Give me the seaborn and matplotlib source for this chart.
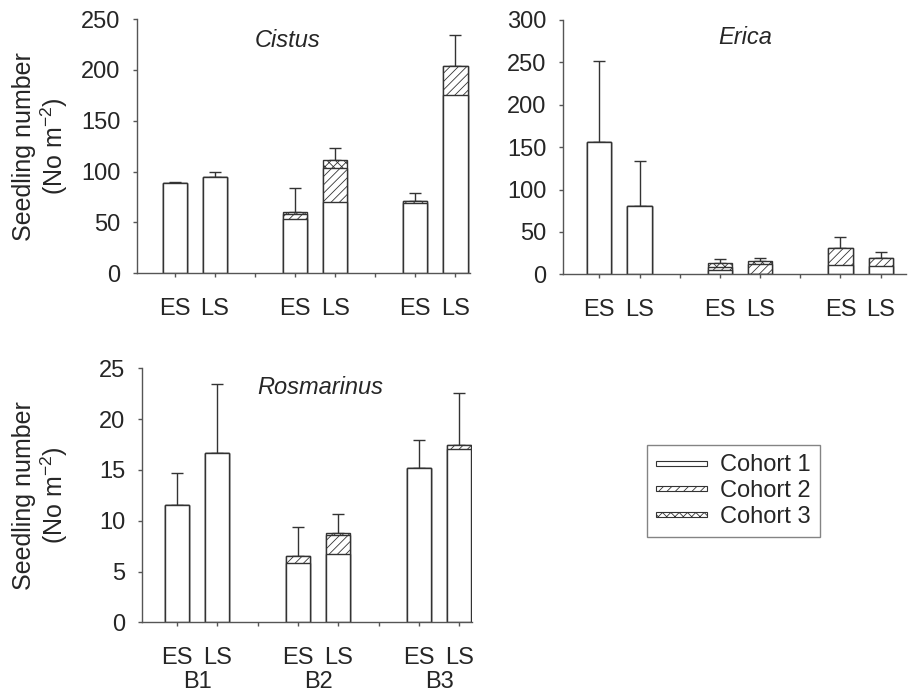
import numpy as np
import pandas as pd
import matplotlib
matplotlib.use("Agg")
import matplotlib.pyplot as plt
from matplotlib.patches import Patch, Rectangle
from matplotlib.legend_handler import HandlerPatch
import seaborn as sns

# Bar positions (ES / LS within burn sites B1, B2, B3)
positions = [1, 2, 4, 5, 7, 8]
sub_labels = ["ES", "LS", "ES", "LS", "ES", "LS"]
site_pos = [1.5, 4.5, 7.5]
site_labels = ["B1", "B2", "B3"]
cohort_names = ["Cohort 1", "Cohort 2", "Cohort 3"]

# Seedling density per cohort (No m-2) and upper standard error of the total
cistus_c1 = [89.0, 94.5, 53.1, 70.0, 69.5, 175.5]
cistus_c2 = [0.0, 0.0, 5.0, 33.3, 1.4, 28.5]
cistus_c3 = [0.0, 0.0, 2.2, 8.2, 0.0, 0.0]
cistus_se = [0.5, 5.2, 24.0, 12.1, 8.4, 30.5]

erica_c1 = [156.4, 81.0, 5.1, 0.0, 11.0, 10.2]
erica_c2 = [0.0, 0.0, 3.9, 12.2, 20.4, 9.4]
erica_c3 = [0.0, 0.0, 4.0, 3.8, 0.0, 0.0]
erica_se = [95.6, 52.3, 4.7, 2.9, 13.0, 7.1]

rosm_c1 = [11.55, 16.63, 5.8, 6.72, 15.19, 17.06]
rosm_c2 = [0.0, 0.0, 0.7, 1.88, 0.0, 0.36]
rosm_c3 = [0.0, 0.0, 0.0, 0.22, 0.0, 0.0]
rosm_se = [3.15, 6.87, 2.9, 1.81, 2.75, 5.12]

sns.set_theme(style="ticks")
plt.rcParams["font.family"] = ["Liberation Sans", "DejaVu Sans"]
plt.rcParams["mathtext.fontset"] = "custom"
plt.rcParams["mathtext.rm"] = "Liberation Sans"
plt.rcParams["mathtext.it"] = "Liberation Sans:italic"
plt.rcParams["hatch.linewidth"] = 0.6
plt.rcParams["hatch.color"] = "#333333"

EDGE = "#333333"
SPINE = "#555555"
FS = 17
HATCHES = ["", "////", "xxxx"]

fig = plt.figure(figsize=(9.09, 6.92), dpi=100)


def panel(rect, c1, c2, c3, se, ymax, ystep, title, title_xy, xlim, sites=False):
    ax = fig.add_axes(rect)
    c1 = np.asarray(c1)
    c2 = np.asarray(c2)
    c3 = np.asarray(c3)
    layers = [c1 + c2 + c3, c1 + c2, c1]
    hatches = [HATCHES[2], HATCHES[1], HATCHES[0]]
    total = layers[0]
    ax.errorbar(positions, total, yerr=[np.zeros(len(se)), se], fmt="none",
                ecolor=EDGE, elinewidth=1.0, capsize=4, capthick=1.0, zorder=1)
    for vals, h in zip(layers, hatches):
        df = pd.DataFrame({"pos": positions, "val": vals})
        sns.barplot(data=df, x="pos", y="val", native_scale=True, width=0.6,
                    color="white", saturation=1, edgecolor=EDGE, linewidth=1.0,
                    hatch=h, errorbar=None, ax=ax, zorder=2)
    ax.set_xlim(*xlim)
    ax.set_ylim(0, ymax)
    ax.set_yticks(np.arange(0, ymax + ystep / 2, ystep))
    ticks = list(range(1, 9))
    labels = []
    for t in ticks:
        labels.append(sub_labels[positions.index(t)] if t in positions else "")
    ax.set_xticks(ticks, labels=labels)
    ax.set_xlabel("")
    ax.set_ylabel("")
    for s in ["top", "right"]:
        ax.spines[s].set_visible(False)
    for s in ["left", "bottom"]:
        ax.spines[s].set_color(SPINE)
        ax.spines[s].set_linewidth(1.0)
    ax.tick_params(axis="y", length=3, width=1, color=SPINE, pad=9, labelsize=FS)
    ax.tick_params(axis="x", length=3, width=1, color=SPINE, pad=15, labelsize=FS)
    if sites:
        ax.set_xticks(site_pos, labels=site_labels, minor=True)
        ax.tick_params(axis="x", which="minor", length=0, pad=35, labelsize=FS)
    ax.text(title_xy[0], title_xy[1], title, transform=ax.transAxes, ha="center",
            va="center", fontsize=FS, fontstyle="italic")
    return ax


ax1 = panel([0.1507, 0.605, 0.3667, 0.3675], cistus_c1, cistus_c2, cistus_c3, cistus_se,
            250, 50, "Cistus", (0.452, 0.917), (0.062, 8.37))
ax2 = panel([0.6194, 0.6036, 0.3773, 0.3675], erica_c1, erica_c2, erica_c3, erica_se,
            300, 50, "Erica", (0.532, 0.933), (0.097, 8.63))
ax3 = panel([0.1559, 0.1007, 0.3635, 0.3671], rosm_c1, rosm_c2, rosm_c3, rosm_se,
            25, 5, "Rosmarinus", (0.54, 0.926), (0.124, 8.32), sites=True)

ylab = "Seedling number\n(No m$^{-2}$)"
for ax, xoff in [(ax1, -0.201), (ax3, -0.217)]:
    ax.set_ylabel(ylab, fontsize=18, linespacing=1.1)
    ax.yaxis.set_label_coords(xoff, 0.5)


def thin_bar(legend, orig_handle, xdescent, ydescent, width, height, fontsize):
    # slim legend key, vertically centred in its slot
    h = 3.8
    return Rectangle((-xdescent, -ydescent + (height - h) / 2), width, h)


handles = [Patch(facecolor="white", edgecolor=EDGE, linewidth=0.8, hatch=h)
           for h in HATCHES]
leg = fig.legend(handles, cohort_names, loc="lower left",
                 bbox_to_anchor=(647 / 909, (692 - 537) / 692), borderaxespad=0,
                 fontsize=FS, frameon=True, fancybox=False, handlelength=2.15,
                 handletextpad=0.55, borderpad=0.4, labelspacing=0.15,
                 handler_map={Patch: HandlerPatch(patch_func=thin_bar)})
leg.get_frame().set_edgecolor("#666666")
leg.get_frame().set_linewidth(1.0)

fig.savefig("out.png", dpi=100)
